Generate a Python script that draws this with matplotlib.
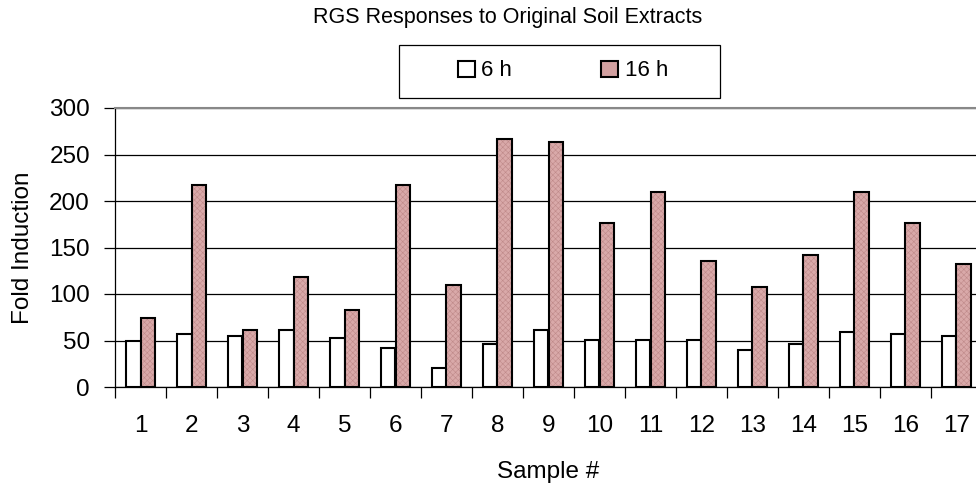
import matplotlib
matplotlib.use("Agg")
import matplotlib.pyplot as plt
from matplotlib.patches import Rectangle
import numpy as np

plt.rcParams['font.family'] = ['Liberation Sans', 'DejaVu Sans']
plt.rcParams['hatch.linewidth'] = 0.4

samples = [str(i) for i in range(1, 18)]
h6 = [50, 57, 55, 61, 53, 42, 20, 46, 61, 51, 51, 51, 40, 46, 59, 57, 55]
h16 = [74, 217, 61, 118, 83, 217, 110, 267, 263, 176, 210, 136, 107, 142, 210, 176, 132]

fig = plt.figure(figsize=(9.76, 4.87), dpi=100)
# axes runs past the right edge, like the cropped original
ax = fig.add_axes([115/976, 100/487, 867/976, 279/487])

x = np.arange(len(samples))
w = 0.285
ax.bar(x - w/2, h6, w, color='white', edgecolor='black', linewidth=1.5, label='6 h', zorder=3)
# texture first (hatch takes the edge colour), then black outline on top
ax.bar(x + w/2, h16, w, color='#d9a9a9', edgecolor='#bf8a8a', linewidth=0,
       hatch='xxxxxx', zorder=3)
ax.bar(x + w/2, h16, w, fill=False, edgecolor='black', linewidth=1.5, zorder=4)

ax.set_xlim(-0.5, len(samples) - 0.5)
ax.set_ylim(0, 300)
ax.set_yticks(range(0, 301, 50))
ax.yaxis.grid(True, color='black', linewidth=0.9)
ax.set_axisbelow(True)

ax.set_xticks(x)
ax.set_xticklabels(samples, fontsize=17.5)
ax.set_xticks(np.arange(-0.5, len(samples), 1), minor=True)
ax.tick_params(axis='x', which='major', length=0, pad=20)
ax.tick_params(axis='x', which='minor', length=8, width=0.9, direction='out')
ax.tick_params(axis='y', length=8, width=0.9, labelsize=17.5, pad=10)

ax.spines['right'].set_visible(False)
ax.spines['top'].set_color('#888888')
ax.spines['top'].set_linewidth(1.5)
ax.spines['left'].set_linewidth(0.9)
ax.spines['bottom'].set_linewidth(0.9)

ax.set_ylabel('Fold Induction', fontsize=17.5)
ax.yaxis.set_label_coords(-0.093, 0.5)
ax.set_xlabel('Sample #', fontsize=17.5)
ax.xaxis.set_label_coords(0.5, -0.265)
fig.text(508/976, 1 - 18/487, 'RGS Responses to Original Soil Extracts',
         ha='center', va='center', fontsize=15.5)

handles = [Rectangle((0, 0), 1, 1, facecolor='white', edgecolor='black', linewidth=1.5),
           Rectangle((0, 0), 1, 1, facecolor='#d2a0a0', edgecolor='black', linewidth=1.5)]
leg = fig.legend(handles, ['6 h', '16 h'], loc='center',
                 bbox_to_anchor=(563/976, 1 - 71/487), ncol=2,
                 fontsize=16, frameon=False,
                 handlelength=0.77, handleheight=0.7, handletextpad=0.3,
                 columnspacing=4.0, borderpad=0, borderaxespad=0)
fig.patches.append(Rectangle((399/976, 1 - 98/487), 321/976, 53/487,
                             transform=fig.transFigure, fill=False,
                             edgecolor='black', linewidth=0.9))

fig.savefig('out.png', dpi=100)
